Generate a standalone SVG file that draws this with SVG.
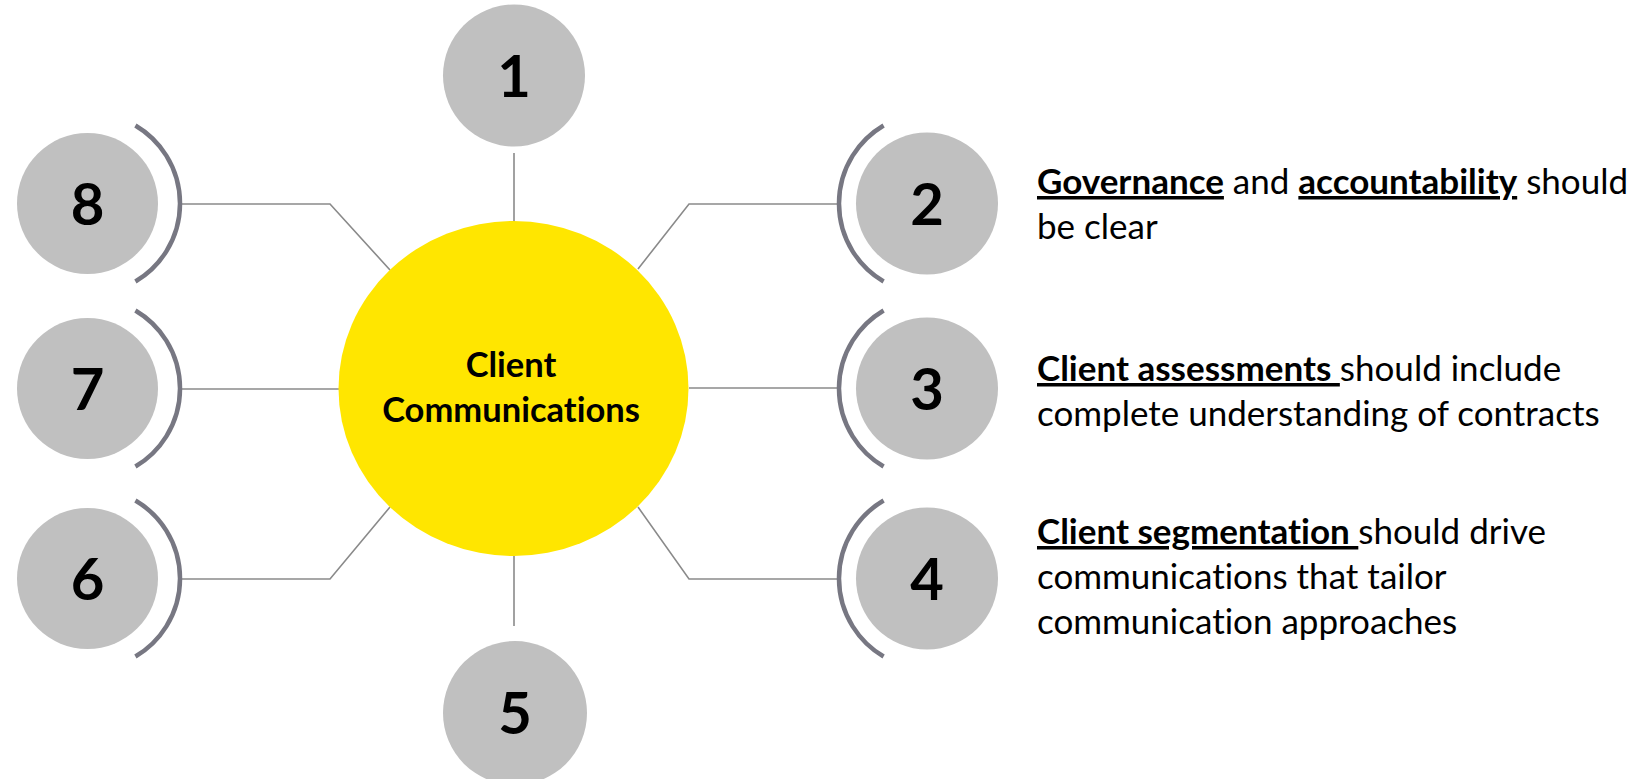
<svg xmlns="http://www.w3.org/2000/svg" width="1652" height="779" viewBox="0 0 1652 779">
  <style>
    text { font-variant-ligatures: none; font-feature-settings: "liga" 0, "clig" 0; }
    .hub { fill: #ffe600; }
    .step { fill: #c0c0c0; }
    .bracket { fill: none; stroke: #777782; stroke-width: 4.5; }
    .link { fill: none; stroke: #8a8a8a; stroke-width: 1.6; }
    .num { font-family: Lato, "Liberation Sans", sans-serif; font-weight: 700; font-size: 58px; fill: #000; text-anchor: middle; }
    .hubtxt { font-family: Lato, "Liberation Sans", sans-serif; font-weight: 700; font-size: 34.5px; fill: #000; text-anchor: middle; }
    .desc { font-family: Lato, "Liberation Sans", sans-serif; font-size: 35px; fill: #000; }
    .key { font-weight: 700; text-decoration: underline; }
  </style>

  <rect width="1652" height="779" fill="#ffffff"/>

  <!-- spokes from the hub to each numbered step -->
  <g id="connectors">
    <line class="link" x1="514" y1="153" x2="514" y2="222"/>
    <line class="link" x1="514" y1="556" x2="514" y2="626"/>
    <polyline class="link" points="638,269 689,204 838,204"/>
    <line class="link" x1="689" y1="388" x2="838" y2="388"/>
    <polyline class="link" points="638,507 689,579 838,579"/>
    <polyline class="link" points="390,270 330,204 182,204"/>
    <line class="link" x1="340" y1="389" x2="182" y2="389"/>
    <polyline class="link" points="390,507 330,579 182,579"/>
  </g>

  <g id="hub">
    <ellipse class="hub" cx="513.5" cy="388.5" rx="175" ry="167.5"/>
    <text class="hubtxt" x="511" y="377">Client</text>
    <text class="hubtxt" x="511" y="422">Communications</text>
  </g>

  <g id="step-1">
    <circle class="step" cx="514" cy="75.5" r="71"/>
    <text class="num" x="514" y="97">1</text>
  </g>

  <g id="step-2">
    <circle class="step" cx="927" cy="203.5" r="71"/>
    <path class="bracket" d="M883.6 125.5 A90.5 90.5 0 0 0 883.6 281.5"/>
    <text class="num" x="927" y="225">2</text>
  </g>

  <g id="step-3">
    <circle class="step" cx="927" cy="388.5" r="71"/>
    <path class="bracket" d="M883.6 310.5 A90.5 90.5 0 0 0 883.6 466.5"/>
    <text class="num" x="927" y="410">3</text>
  </g>

  <g id="step-4">
    <circle class="step" cx="927" cy="578.5" r="71"/>
    <path class="bracket" d="M883.6 500.5 A90.5 90.5 0 0 0 883.6 656.5"/>
    <text class="num" x="927" y="600">4</text>
  </g>

  <g id="step-5">
    <circle class="step" cx="515" cy="713" r="72"/>
    <text class="num" x="515" y="734">5</text>
  </g>

  <g id="step-6">
    <circle class="step" cx="87.5" cy="578.5" r="70.5"/>
    <path class="bracket" d="M135.4 500.5 A90.5 90.5 0 0 1 135.4 656.5"/>
    <text class="num" x="87.5" y="600">6</text>
  </g>

  <g id="step-7">
    <circle class="step" cx="87.5" cy="388.5" r="70.5"/>
    <path class="bracket" d="M135.4 310.5 A90.5 90.5 0 0 1 135.4 466.5"/>
    <text class="num" x="87.5" y="410">7</text>
  </g>

  <g id="step-8">
    <circle class="step" cx="87.5" cy="203.5" r="70.5"/>
    <path class="bracket" d="M135.4 125.5 A90.5 90.5 0 0 1 135.4 281.5"/>
    <text class="num" x="87.5" y="225">8</text>
  </g>

  <!-- descriptions beside steps 2, 3 and 4 -->
  <g id="note-2">
    <text class="desc" x="1037" y="194"><tspan class="key">Governance</tspan> and <tspan class="key">accountability</tspan> should</text>
    <text class="desc" x="1037" y="239">be clear</text>
  </g>

  <g id="note-3">
    <text class="desc" x="1037" y="381" xml:space="preserve"><tspan class="key">Client assessments </tspan>should include</text>
    <text class="desc" x="1037" y="426">complete understanding of contracts</text>
  </g>

  <g id="note-4">
    <text class="desc" x="1037" y="544" xml:space="preserve"><tspan class="key">Client segmentation </tspan>should drive</text>
    <text class="desc" x="1037" y="589">communications that tailor</text>
    <text class="desc" x="1037" y="634">communication approaches</text>
  </g>
</svg>
